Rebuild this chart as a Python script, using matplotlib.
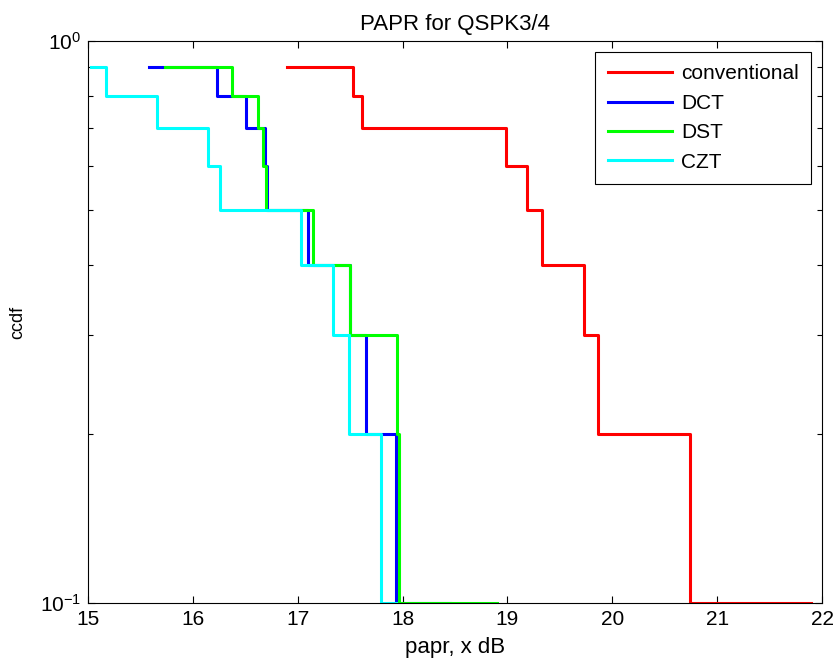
import matplotlib.pyplot as plt
from matplotlib.ticker import LogLocator, NullFormatter, NullLocator

# ccdf levels shared by every curve; the last level is repeated for the end point
ccdf = [0.9, 0.8, 0.7, 0.6, 0.5, 0.4, 0.3, 0.2, 0.1, 0.1]

# papr (dB) where each ccdf level starts, plus where the curve ends
papr_conv = [16.90, 17.53, 17.61, 18.99, 19.19, 19.33, 19.73, 19.86, 20.74, 21.89]
papr_dct = [15.58, 16.23, 16.51, 16.69, 16.71, 17.10, 17.50, 17.65, 17.94, 18.45]
papr_dst = [15.73, 16.37, 16.62, 16.67, 16.70, 17.15, 17.50, 17.95, 17.97, 18.90]
papr_czt = [15.03, 15.17, 15.66, 16.14, 16.26, 17.03, 17.34, 17.49, 17.79, 17.94]

series = [
    ("conventional", papr_conv, "#ff0000"),
    ("DCT", papr_dct, "#0000ff"),
    ("DST", papr_dst, "#00ff00"),
    ("CZT", papr_czt, "#00ffff"),
]

plt.rcParams['font.family'] = ['Liberation Sans', 'DejaVu Sans']
plt.rcParams['mathtext.fontset'] = 'custom'
plt.rcParams['mathtext.rm'] = 'Liberation Sans'

fig = plt.figure(figsize=(8.38, 6.65), dpi=100)
ax = fig.add_axes([0.105, 0.093, 0.876, 0.845])

for name, xs, col in series:
    ax.step(xs, ccdf, where='post', color=col, linewidth=2.2, label=name)

ax.set_yscale('log')
ax.set_xlim(15, 22)
ax.set_ylim(0.1, 1.0)
ax.set_xticks(range(15, 23))
ax.xaxis.set_minor_locator(NullLocator())
ax.yaxis.set_major_locator(LogLocator(base=10))
ax.yaxis.set_minor_locator(LogLocator(base=10, subs=[0.2, 0.3, 0.4, 0.5, 0.6, 0.7, 0.8, 0.9]))
ax.yaxis.set_minor_formatter(NullFormatter())

ax.tick_params(which='both', direction='in', top=True, right=True, width=0.8, labelsize=15)
ax.tick_params(which='major', length=5)
ax.tick_params(which='minor', length=3.5)
ax.tick_params(axis='x', pad=5)
ax.tick_params(axis='y', pad=5)
for sp in ax.spines.values():
    sp.set_linewidth(0.8)

ax.set_title("PAPR for QSPK3/4", fontsize=16, pad=8)
ax.set_xlabel("papr, x dB", fontsize=16, labelpad=6)
ax.set_ylabel("ccdf", fontsize=13, labelpad=10)

leg = ax.legend(loc='upper right', bbox_to_anchor=(0.985, 0.981), fancybox=False,
                edgecolor='black', framealpha=1, fontsize=15, handlelength=3.1,
                handletextpad=0.4, labelspacing=0.5, borderpad=0.6, borderaxespad=0)
leg.get_frame().set_linewidth(0.8)

fig.savefig("out.png", dpi=100, facecolor='white')
